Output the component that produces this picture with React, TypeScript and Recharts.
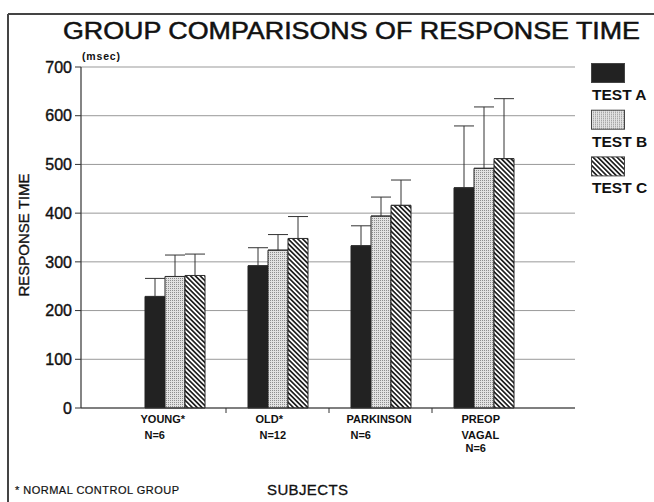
import { BarChart, Bar, XAxis, YAxis, CartesianGrid, ErrorBar, Legend } from "recharts";

const groups = ["YOUNG*", "OLD*", "PARKINSON", "PREOP VAGAL"];
const groupSizes = ["N=6", "N=12", "N=6", "N=6"];
const testA = [229, 292, 333, 452];
const testB = [270, 324, 394, 492];
const testC = [272, 348, 416, 512];
const errA = [37, 37, 41, 127];
const errB = [44, 32, 39, 126];
const errC = [44, 45, 52, 123];
const yTicks = [0, 100, 200, 300, 400, 500, 600, 700];

const font = "'Liberation Sans', Arial, Helvetica, sans-serif";

const series = [
  { key: "a", name: "TEST A", fill: "#222" },
  { key: "b", name: "TEST B", fill: "url(#dots)" },
  { key: "c", name: "TEST C", fill: "url(#hatch)" },
];

const data = groups.map((g, i) => ({
  group: g,
  a: testA[i],
  b: testB[i],
  c: testC[i],
  aErr: [0, errA[i]],
  bErr: [0, errB[i]],
  cErr: [0, errC[i]],
}));

// width of one category band on the x axis
const BAND = 103;

function GroupTick({ x, y, payload, index }: any) {
  const lines = [...String(payload.value).split(" "), groupSizes[index]];
  // the old plot software staggers the labels a little
  const left = x - 34 + (index % 2) * 12;
  const offsets = [15, 31, 44];
  return (
    <g>
      {index < groups.length - 1 && (
        <line x1={x + BAND / 2} y1={y} x2={x + BAND / 2} y2={y + 5} stroke="#333" strokeWidth={1} />
      )}
      {lines.map((t, i) => (
        <text
          key={i}
          x={left + (i === lines.length - 1 ? 4 : 0)}
          y={y + offsets[i]}
          fontFamily={font}
          fontWeight="bold"
          fontSize={11}
          fill="#111"
        >
          {t}
        </text>
      ))}
    </g>
  );
}

function LegendBox({ payload }: any) {
  return (
    <svg width={63} height={140}>
      {(payload || []).map((p: any, i: number) => (
        <g key={p.value} transform={`translate(0, ${i * 46.7})`}>
          <rect x={0.5} y={0.5} width={33} height={19} fill={p.color} stroke="#444" />
          <text x={1} y={37} fontFamily={font} fontWeight="bold" fontSize={15.5} fill="#111">
            {p.value}
          </text>
        </g>
      ))}
    </svg>
  );
}

export default function App() {
  return (
    <div style={{ position: "absolute", left: 0, top: 0, background: "#fff" }}>
      <BarChart
        width={654}
        height={502}
        data={data}
        margin={{ top: 67, right: 79, left: 41, bottom: 34 }}
        barGap={0}
        barSize={20}
      >
        <defs>
          <pattern id="dots" width="2" height="2" patternUnits="userSpaceOnUse">
            <rect width="2" height="2" fill="#e2e2e2" />
            <rect width="1" height="1" fill="#8e8e8e" />
          </pattern>
          <pattern id="hatch" width="3.4" height="3.4" patternUnits="userSpaceOnUse" patternTransform="rotate(-45)">
            <rect width="3.4" height="3.4" fill="#fff" />
            <rect width="1.7" height="3.4" fill="#222" />
          </pattern>
        </defs>

        {/* scanned page frame */}
        <line x1={8} y1={14} x2={654} y2={14} stroke="#444" strokeWidth={2} />
        <line x1={8} y1={14} x2={8} y2={502} stroke="#444" strokeWidth={2} />

        <text
          x={63}
          y={39}
          fontFamily={font}
          fontSize={23}
          textLength={577}
          lengthAdjust="spacingAndGlyphs"
          fill="#111"
          stroke="#111"
          strokeWidth={0.5}
        >
          GROUP COMPARISONS OF RESPONSE TIME
        </text>
        <text x={82} y={60} fontFamily={font} fontWeight="bold" fontSize={10.5} textLength={38} fill="#111">
          (msec)
        </text>
        <text
          x={23}
          y={235}
          transform="rotate(-90, 23, 235)"
          textAnchor="middle"
          dominantBaseline="central"
          fontFamily={font}
          fontSize={15}
          fill="#111"
          stroke="#111"
          strokeWidth={0.35}
        >
          RESPONSE TIME
        </text>
        <text x={15} y={494} fontFamily={font} fontSize={11} textLength={164} fill="#111" stroke="#111" strokeWidth={0.2}>
          * NORMAL CONTROL GROUP
        </text>
        <text x={267} y={495} fontFamily={font} fontSize={15} textLength={81} fill="#111" stroke="#111" strokeWidth={0.3}>
          SUBJECTS
        </text>

        <CartesianGrid vertical={false} stroke="#999" />
        <XAxis
          dataKey="group"
          height={60}
          padding={{ left: 42, right: 40 }}
          interval={0}
          tickLine={false}
          tickSize={0}
          tickMargin={0}
          axisLine={{ stroke: "#333", strokeWidth: 1.2 }}
          tick={<GroupTick />}
        />
        <YAxis
          width={40}
          domain={[0, 700]}
          ticks={yTicks}
          interval={0}
          tickSize={6}
          tickMargin={3}
          tickLine={{ stroke: "#333" }}
          axisLine={{ stroke: "#333", strokeWidth: 1.2 }}
          tick={{ fontFamily: font, fontSize: 16, fill: "#111", stroke: "#111", strokeWidth: 0.4 }}
        />
        <YAxis
          yAxisId="r"
          orientation="right"
          width={0}
          domain={[0, 700]}
          tick={false}
          tickLine={false}
          axisLine={{ stroke: "#666" }}
        />
        <Legend
          layout="vertical"
          align="center"
          verticalAlign="middle"
          wrapperStyle={{ left: 591, top: 63, width: 63, height: 140 }}
          content={<LegendBox />}
        />
        {series.map((s) => (
          <Bar
            key={s.key}
            dataKey={s.key}
            name={s.name}
            fill={s.fill}
            stroke="#222"
            strokeWidth={1}
            isAnimationActive={false}
          >
            <ErrorBar dataKey={`${s.key}Err`} direction="y" width={10} stroke="#333" strokeWidth={1} />
          </Bar>
        ))}
      </BarChart>
    </div>
  );
}
